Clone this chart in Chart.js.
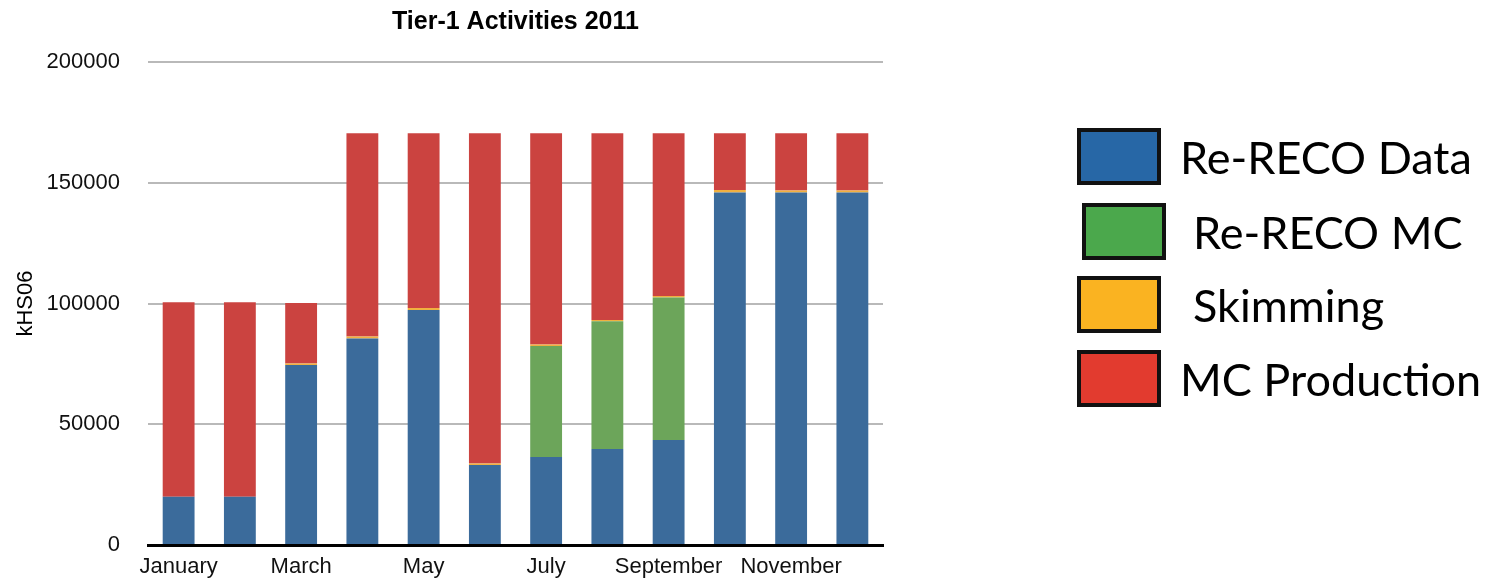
<!DOCTYPE html>
<html>
<head>
<meta charset="utf-8">
<style>
    html, body { margin: 0; padding: 0; background: #fff; overflow: hidden; }
    #wrap { position: relative; width: 1497px; height: 579px; overflow: hidden; }
    #myChart { position: absolute; left: 0; top: 0; }
    .legend-item { position: absolute; display: flex; align-items: center; white-space: nowrap; font-family: Lato, "Open Sans", sans-serif; font-size: 45px; color: #000; }
    .legend-box { box-sizing: border-box; width: 84px; height: 57px; border: 4px solid #111; margin-right: 19px; }
</style>
</head>
<body>
<div id="wrap">
    <canvas id="myChart" width="1497" height="579"></canvas>
</div>

<script src="https://cdn.jsdelivr.net/npm/chart.js"></script>
<script>
    const chartTitle = 'Tier-1 Activities 2011';
    const months = ['January', 'February', 'March', 'April', 'May', 'June',
                    'July', 'August', 'September', 'October', 'November', 'December'];

    const seriesNames = ['Re-RECO Data', 'Re-RECO MC', 'Skimming', 'MC Production'];

    // values (kHS06)
    const rerecoData   = [20000, 20000, 74500, 85500, 97300, 33100, 36400, 39800, 43500, 146000, 146000, 146000];
    const rerecoMC     = [0, 0, 0, 0, 0, 0, 46000, 52800, 59000, 0, 0, 0];
    const skimming     = [0, 0, 700, 800, 800, 600, 600, 600, 600, 1000, 800, 800];
    const mcProduction = [80500, 80500, 25000, 84200, 72400, 136800, 87500, 77300, 67400, 23500, 23700, 23700];

    const barColors    = ['#3b6b9b', '#6ca55a', '#f0b040', '#cb4340'];
    const legendColors = ['#2767a6', '#4ba84c', '#fab321', '#e23b2f'];

    const yTicks = [0, 50000, 100000, 150000, 200000];

    const seriesValues = [rerecoData, rerecoMC, skimming, mcProduction];
    const baseFont = '"Liberation Sans", Arial, sans-serif';

    const datasets = seriesNames.map((name, i) => ({
        label: name,
        data: seriesValues[i],
        backgroundColor: barColors[i],
        borderWidth: 0,
        barPercentage: 0.52,
        categoryPercentage: 1.0
    }));

    // title centred over the plot area, not the whole canvas
    const plotTitle = {
        id: 'plotTitle',
        afterDraw(chart) {
            const c = chart.ctx;
            const area = chart.chartArea;
            c.save();
            c.font = 'bold 25px ' + baseFont;
            c.fillStyle = '#000';
            c.textAlign = 'center';
            c.textBaseline = 'middle';
            c.fillText(chartTitle, (area.left + area.right) / 2, 22);
            c.restore();
        }
    };

    const ctx = document.getElementById('myChart').getContext('2d');
    const chart = new Chart(ctx, {
        type: 'bar',
        data: { labels: months, datasets: datasets },
        plugins: [plotTitle],
        options: {
            responsive: false,
            animation: false,
            layout: { padding: { left: 0, right: 614, top: 62, bottom: 0 } },
            plugins: {
                legend: { display: false },
                tooltip: { enabled: false },
                title: { display: false }
            },
            scales: {
                x: {
                    stacked: true,
                    grid: { display: false, drawTicks: false },
                    border: { display: true, color: '#000', width: 3 },
                    afterFit: scale => { scale.height = 34; },
                    ticks: {
                        color: '#111',
                        padding: 9,
                        maxRotation: 0,
                        autoSkip: false,
                        font: { family: baseFont, size: 22 },
                        callback: (v, i) => (i % 2 === 0 ? months[i] : '')
                    }
                },
                y: {
                    stacked: true,
                    min: 0,
                    max: 200000,
                    afterFit: scale => { scale.width = 148; scale.paddingBottom = 0; },
                    afterBuildTicks: scale => { scale.ticks = yTicks.map(v => ({ value: v })); },
                    grid: { color: '#b9b9b9', lineWidth: 2, drawTicks: false },
                    border: { display: false },
                    title: {
                        display: true,
                        text: 'kHS06',
                        color: '#000',
                        font: { family: baseFont, size: 22 },
                        padding: { top: 13, bottom: 6 }
                    },
                    ticks: {
                        color: '#111',
                        padding: 28,
                        font: { family: baseFont, size: 22 },
                        callback: v => String(v)
                    }
                }
            }
        }
    });

    // legend on the right, drawn as HTML from the series names/colours
    const legendSpots = [
        { left: 1077, top: 128 },
        { left: 1082, top: 203 },
        { left: 1077, top: 276 },
        { left: 1077, top: 350 }
    ];
    const textGap = [19, 27, 32, 19];
    const wrap = document.getElementById('wrap');
    seriesNames.forEach((name, i) => {
        const item = document.createElement('div');
        item.className = 'legend-item';
        item.style.left = legendSpots[i].left + 'px';
        item.style.top = legendSpots[i].top + 'px';
        const box = document.createElement('div');
        box.className = 'legend-box';
        box.style.background = legendColors[i];
        box.style.marginRight = textGap[i] + 'px';
        const txt = document.createElement('span');
        txt.textContent = name;
        item.appendChild(box);
        item.appendChild(txt);
        wrap.appendChild(item);
    });
</script>
</body>
</html>
